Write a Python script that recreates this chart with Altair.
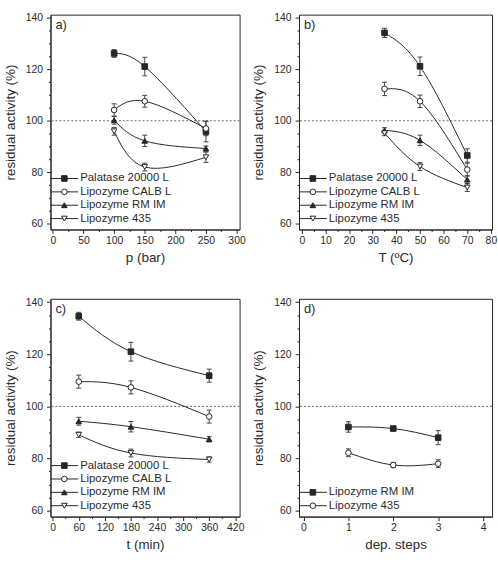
import altair as alt
import pandas as pd

FONT = "Liberation Sans"
INK = "#262626"
TXT = "#2b2b2b"

# ---- shared y axis ----
Y_DOMAIN = [57.7, 141.3]
Y_TICKS = [60, 80, 100, 120, 140]
Y_MINOR = [65, 70, 75, 85, 90, 95, 105, 110, 115, 125, 130, 135]
Y_STEP = 20
Y_TITLE = "residual activity (%)"
REF_LINE = [100]

SERIES4 = ["Palatase 20000 L", "Lipozyme CALB L", "Lipozyme RM IM", "Lipozyme 435"]
SERIES2 = ["Lipozyme RM IM", "Lipozyme 435"]
SHAPES4 = ["square", "circle", "triangle-up", "triangle-down"]
FILLS4 = [INK, "white", INK, "white"]
SHAPES2 = ["square", "circle"]
FILLS2 = [INK, "white"]

# ---- panel a: pressure ----
a_x = [100, 150, 250]
a_palatase = [126.2, 121.1, 95.8]
a_palatase_err = [1.5, 3.6, 4.0]
a_calb = [104.2, 107.6, 97.0]
a_calb_err = [2.4, 2.3, 2.8]
a_rmim = [100.2, 92.2, 89.2]
a_rmim_err = [1.5, 2.2, 1.0]
a_435 = [95.9, 82.0, 85.8]
a_435_err = [1.5, 1.5, 2.0]

# ---- panel b: temperature ----
b_x = [35, 50, 70]
b_palatase = [134.2, 121.2, 86.5]
b_palatase_err = [1.8, 3.6, 2.6]
b_calb = [112.4, 107.6, 81.0]
b_calb_err = [2.6, 2.4, 2.5]
b_rmim = [96.3, 92.4, 77.1]
b_rmim_err = [1.0, 2.0, 1.5]
b_435 = [95.2, 82.2, 74.0]
b_435_err = [1.0, 1.5, 1.5]

# ---- panel c: time ----
c_x = [60, 180, 360]
c_palatase = [134.6, 121.0, 111.8]
c_palatase_err = [1.5, 3.6, 2.5]
c_calb = [109.5, 107.3, 96.1]
c_calb_err = [2.5, 2.5, 2.5]
c_rmim = [94.3, 92.2, 87.4]
c_rmim_err = [1.5, 2.0, 1.0]
c_435 = [89.1, 82.1, 79.6]
c_435_err = [1.0, 1.5, 1.0]

# ---- panel d: depressurization steps ----
d_x = [1, 2, 3]
d_rmim = [92.1, 91.5, 88.0]
d_rmim_err = [2.0, 0.8, 2.7]
d_435 = [82.2, 77.5, 78.0]
d_435_err = [1.5, 1.0, 1.5]

CAP = "M-1,0L1,0"


def axis_with_minor(major, minor, step, title, orient, label_pad):
    test = f"abs(datum.value / {step} - round(datum.value / {step})) < 1e-6"
    return alt.Axis(
        values=sorted(major + minor), title=title, orient=orient, format="d",
        labelExpr=f"{test} ? datum.label : ''",
        tickSize={"condition": {"test": test, "value": 4}, "value": 2},
        labelFlush=False, labelOverlap=False, grid=False, labelPadding=label_pad,
    )


def panel(label, xtitle, xdomain, xticks, xminor, xstep, width, height,
          names, shapes, fills, xs, ys, errs):
    rows = []
    for name, yv, ev in zip(names, ys, errs):
        for x, y, e in zip(xs, yv, ev):
            rows.append(dict(series=name, x=x, y=y, lo=y - e, hi=y + e))
    df = pd.DataFrame(rows)

    xsc = alt.Scale(domain=xdomain, nice=False, zero=False)
    ysc = alt.Scale(domain=Y_DOMAIN, nice=False, zero=False)
    xaxis = axis_with_minor(xticks, xminor, xstep, xtitle, "bottom", 2)
    yaxis = axis_with_minor(Y_TICKS, Y_MINOR, Y_STEP, Y_TITLE, "left", 4)
    X = alt.X("x:Q", scale=xsc, axis=xaxis)
    shape = alt.Shape("series:N", scale=alt.Scale(domain=names, range=shapes), legend=None)
    fill = alt.Fill("series:N", scale=alt.Scale(domain=names, range=fills), legend=None)

    base = alt.Chart(df)
    ref = alt.Chart(pd.DataFrame({"y": REF_LINE})).mark_rule(
        strokeDash=[2, 2], color="#666", strokeWidth=1
    ).encode(y=alt.Y("y:Q", scale=ysc, axis=yaxis))
    lines = base.mark_line(interpolate="natural", color=INK, strokeWidth=1).encode(
        x=X, y=alt.Y("y:Q", scale=ysc, axis=yaxis), detail="series:N")
    bars = base.mark_rule(color="#444", strokeWidth=1).encode(
        x=X, y=alt.Y("lo:Q", scale=ysc, axis=yaxis), y2="hi:Q")
    cap_hi = base.mark_point(shape=CAP, size=25, color="#444", strokeWidth=1, opacity=1).encode(
        x=X, y=alt.Y("hi:Q", scale=ysc, axis=yaxis))
    cap_lo = base.mark_point(shape=CAP, size=25, color="#444", strokeWidth=1, opacity=1).encode(
        x=X, y=alt.Y("lo:Q", scale=ysc, axis=yaxis))
    pts = base.mark_point(filled=True, opacity=1, stroke=INK, strokeWidth=1, size=32).encode(
        x=X, y=alt.Y("y:Q", scale=ysc, axis=yaxis), shape=shape, fill=fill)
    main = alt.layer(ref, lines, bars, cap_hi, cap_lo, pts)

    leg = pd.DataFrame({"series": names, "rank": list(range(len(names)))[::-1]})
    ly = alt.Y("rank:Q", scale=alt.Scale(domain=[0, 1], range=[height - 11, height - 24.5]), axis=None)
    lbase = alt.Chart(leg)
    l_line = lbase.mark_rule(color=INK, strokeWidth=1).encode(
        x=alt.value(0), x2=alt.value(28), y=ly)
    l_pt = lbase.mark_point(filled=True, opacity=1, stroke=INK, strokeWidth=1, size=32).encode(
        x=alt.value(14), y=ly, shape=shape, fill=fill)
    l_txt = lbase.mark_text(align="left", baseline="middle", font=FONT, fontSize=11.5, color=TXT).encode(
        x=alt.value(30), y=ly, text="series:N")

    lab = alt.Chart(pd.DataFrame({"t": [label]})).mark_text(
        align="left", baseline="middle", font=FONT, fontSize=13, color=TXT
    ).encode(x=alt.value(5), y=alt.value(10), text="t:N")

    return alt.layer(main, l_line, l_pt, l_txt, lab).resolve_scale(
        y="independent", shape="independent", fill="independent"
    ).properties(width=width, height=height)


pa = panel("a)", "p (bar)", [-4, 305], [0, 50, 100, 150, 200, 250, 300],
           [25, 75, 125, 175, 225, 275], 50, 191, 217, SERIES4, SHAPES4, FILLS4, a_x,
           [a_palatase, a_calb, a_rmim, a_435],
           [a_palatase_err, a_calb_err, a_rmim_err, a_435_err])
pb = panel("b)", "T (ºC)", [-1.2, 80.5], [0, 10, 20, 30, 40, 50, 60, 70, 80],
           [5, 15, 25, 35, 45, 55, 65, 75], 10, 195, 217, SERIES4, SHAPES4, FILLS4, b_x,
           [b_palatase, b_calb, b_rmim, b_435],
           [b_palatase_err, b_calb_err, b_rmim_err, b_435_err])
pc = panel("c)", "t (min)", [-5, 430], [0, 60, 120, 180, 240, 300, 360, 420],
           [30, 90, 150, 210, 270, 330, 390], 60, 191, 220, SERIES4, SHAPES4, FILLS4, c_x,
           [c_palatase, c_calb, c_rmim, c_435],
           [c_palatase_err, c_calb_err, c_rmim_err, c_435_err])
pd_ = panel("d)", "dep. steps", [-0.1, 4.2], [0, 1, 2, 3, 4],
            [0.5, 1.5, 2.5, 3.5], 1, 195, 220, SERIES2, SHAPES2, FILLS2, d_x,
            [d_rmim, d_435], [d_rmim_err, d_435_err])

chart = alt.concat(pa, pb, pc, pd_, columns=2, spacing={"row": 70, "column": 60},
                   bounds="flush").properties(
    padding={"left": 2, "top": 9, "right": 0, "bottom": 0}
).configure_view(stroke=INK, strokeWidth=1).configure_axis(
    labelFont=FONT, titleFont=FONT, labelFontSize=10.5, titleFontSize=13.5,
    titleFontWeight="normal", labelColor=TXT, titleColor=TXT,
    domainColor=INK, tickColor=INK, titlePadding=8,
).configure_axisX(titlePadding=5)

chart.save("out.html", embed_options={"renderer": "svg", "actions": False})
